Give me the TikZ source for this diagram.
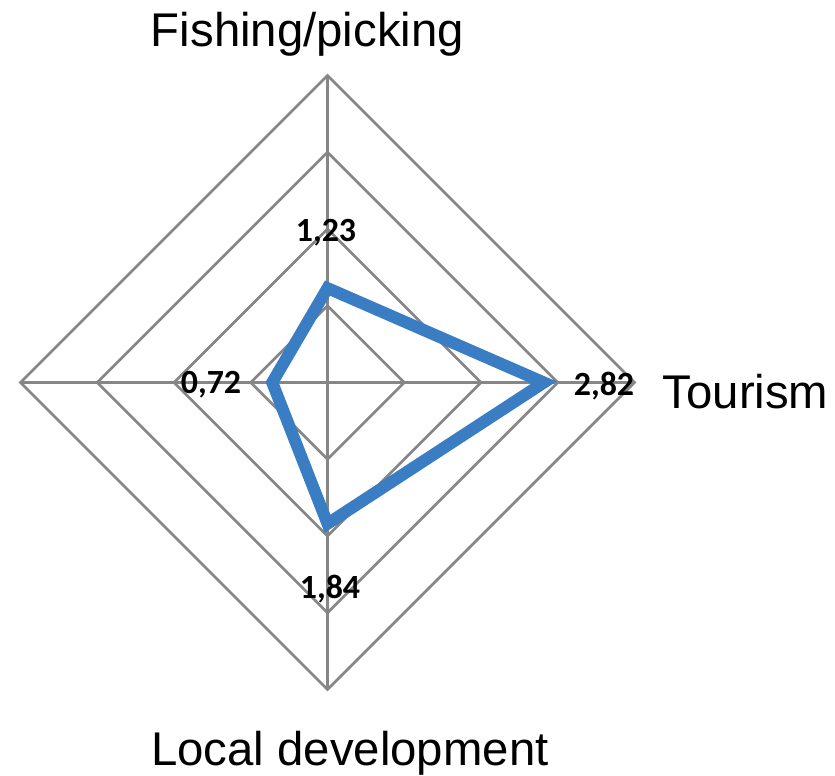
\documentclass[tikz,border=0pt]{standalone}
\usepackage{fontspec}
\usetikzlibrary{calc}
\setmainfont{Liberation Sans}
\newfontfamily\valfont{Carlito}
\definecolor{gridgray}{RGB}{134,134,134}
\definecolor{serblue}{RGB}{58,125,194}
\begin{document}
\begin{tikzpicture}[x=1bp,y=-1bp,
  grid/.style={draw=gridgray,line width=2.8bp,line join=miter},
  series/.style={draw=serblue,line width=12bp,line join=miter},
  axlabel/.style={font=\fontsize{47.5}{50}\selectfont,inner sep=0pt,anchor=base},
  vallabel/.style={font=\valfont\bfseries\fontsize{34}{36}\selectfont,inner sep=0pt}]
\useasboundingbox (0,0) rectangle (835,776);
\coordinate (c) at (327.5,382.5);
\def\u{76.75}
\foreach \k in {1,2,3,4}{
  \draw[grid] ($(c)+(0,-\k*\u)$) -- ($(c)+(\k*\u,0)$) -- ($(c)+(0,\k*\u)$) -- ($(c)+(-\k*\u,0)$) -- cycle;
}
\coordinate (t4) at ($(c)+(0,-4*\u)$);
\coordinate (r4) at ($(c)+(4*\u,0)$);
\coordinate (b4) at ($(c)+(0,4*\u)$);
\coordinate (l4) at ($(c)+(-4*\u,0)$);
\draw[grid] (t4) -- (b4);
\draw[grid] (l4) -- (r4);
\coordinate (pt) at ($(c)+(0,-1.23*\u)$);
\coordinate (pr) at ($(c)+(2.82*\u,0)$);
\coordinate (pb) at ($(c)+(0,1.84*\u)$);
\coordinate (pl) at ($(c)+(-0.72*\u,0)$);
\draw[series] (pt) -- (pr) -- (pb) -- (pl) -- cycle;
\node[vallabel] (v1) at (326,233) {1,23};
\node[vallabel] (v2) at (604,386) {2,82};
\node[vallabel] (v3) at (330,589) {1,84};
\node[vallabel] (v4) at (211,385) {0,72};
\node[axlabel] (a1) at (307.5,47) {Fishing/picking};
\node[axlabel] (a2) at (745.5,408) {Tourism};
\node[axlabel] (a3) at (350,765) {Local development};
\end{tikzpicture}
\end{document}
